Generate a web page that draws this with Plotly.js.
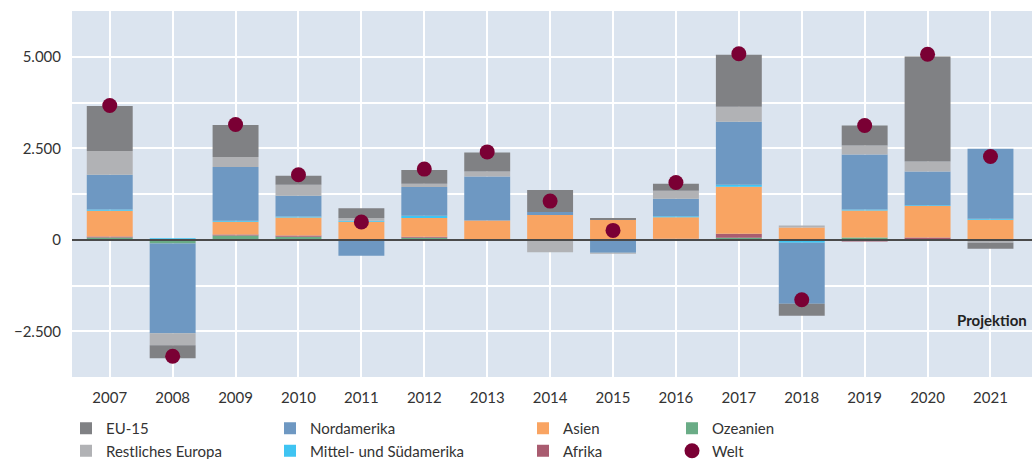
<!DOCTYPE html>
<html>
<head>
<meta charset="utf-8">
<script src="https://cdn.plot.ly/plotly-3.0.1.min.js"></script>
<style>
html,body{margin:0;padding:0;background:#fff;}
#chart{width:1036px;height:459px;}
</style>
</head>
<body>
<div id="chart"></div>
<script>
const years = ['2007','2008','2009','2010','2011','2012','2013','2014','2015','2016','2017','2018','2019','2020','2021'];
const ozeanien    = [64, -100, 118, 82, 0, 55, 0, 0, 0, 20, 55, 0, 64, 0, 0];
const afrika      = [27, 0, 27, 36, 0, 27, 15, 0, 0, 10, 109, 0, -45, 64, 0];
const asien       = [700, 0, 346, 491, 491, 510, 510, 673, 537, 582, 1283, 337, 737, 855, 546];
const mittelSued  = [36, 40, 30, 27, 27, 64, 0, 0, 0, 27, 55, -82, 27, 27, 27];
const nordamerika = [946, -2457, 1465, 565, -437, 783, 1201, 82, -355, 483, 1720, -1665, 1502, 920, 1911];
const restEuropa  = [655, -328, 273, 300, 73, 91, 137, -340, -27, 218, 410, 55, 246, 273, -82];
const eu15        = [1228, -355, 874, 246, 273, 373, 519, 601, 55, 191, 1420, -328, 546, 2867, -164];
const welt        = [3670, -3185, 3148, 1775, 483, 1930, 2400, 1056, 255, 1565, 5080, -1638, 3120, 5070, 2275];
const yTickVals = [-2500, 0, 2500, 5000];
const yTickText = ['\u22122.500', '0', '2.500', '5.000'];

const colors = {
  eu15:'#808184', rest:'#b1b2b5', nord:'#6e98c2', mittel:'#3fc4f2',
  asien:'#f9a462', afrika:'#a95c70', ozean:'#6aac86', welt:'#7a0034'
};

function bar(name, y, color, legend, rank){
  return {type:'bar', name:name, x:years, y:y, marker:{color:color, line:{width:0}},
          legend:legend, legendrank:rank, hoverinfo:'name+y'};
}
const traces = [
  bar('Ozeanien', ozeanien, colors.ozean, 'legend4', 1),
  bar('Afrika', afrika, colors.afrika, 'legend3', 2),
  bar('Asien', asien, colors.asien, 'legend3', 1),
  bar('Mittel- und Südamerika', mittelSued, colors.mittel, 'legend2', 2),
  bar('Nordamerika', nordamerika, colors.nord, 'legend2', 1),
  bar('Restliches Europa', restEuropa, colors.rest, 'legend', 2),
  bar('EU-15', eu15, colors.eu15, 'legend', 1),
  {type:'scatter', mode:'markers', name:'Welt', x:years, y:welt,
   marker:{color:colors.welt, size:15, line:{width:0}}, legend:'legend4', legendrank:2}
];

const legFont = {family:'Lato, "Open Sans", sans-serif', size:15, color:'#333'};
function leg(xpx){
  return {x:xpx/1036, y:1-412/459, xref:'container', yref:'container', xanchor:'left', yanchor:'top',
          orientation:'v', font:legFont, bgcolor:'rgba(0,0,0,0)', borderwidth:0, traceorder:'normal'};
}

const layout = {
  width:1036, height:459,
  margin:{l:72, r:4, t:11, b:82, autoexpand:false},
  paper_bgcolor:'#ffffff',
  plot_bgcolor:'#dbe4ef',
  barmode:'relative',
  bargap:0.27,
  showlegend:true,
  font:{family:'Lato, "Open Sans", sans-serif', size:15, color:'#333'},
  xaxis:{
    type:'category', range:[-0.6, 14.66], showgrid:true, gridcolor:'#ffffff', gridwidth:2,
    ticks:'', showline:false, zeroline:false, ticklabelstandoff:10, tickangle:0, automargin:false,
    tickfont:{family:'Lato, "Open Sans", sans-serif', size:15, color:'#333'}
  },
  yaxis:{
    range:[-3750, 6250], tickvals:yTickVals, ticktext:yTickText, automargin:false,
    showgrid:true, gridcolor:'#ffffff', gridwidth:2,
    minor:{dtick:1250, tick0:0, showgrid:true, gridcolor:'#ffffff', gridwidth:2},
    zeroline:true, zerolinecolor:'#4a4a4a', zerolinewidth:2, zerolinelayer:'above traces',
    ticks:'', showline:false, ticklabelstandoff:10,
    tickfont:{family:'Lato, "Open Sans", sans-serif', size:15, color:'#333'}
  },
  legend: leg(66),
  legend2: leg(270),
  legend3: leg(523),
  legend4: leg(672),
  annotations:[{
    text:'<b>Projektion</b>', xref:'paper', yref:'y', x:0.997, y:-2200,
    xanchor:'right', yanchor:'middle', showarrow:false,
    font:{family:'Lato, "Open Sans", sans-serif', size:15, color:'#222'}
  }]
};

Plotly.newPlot('chart', traces, layout, {displayModeBar:false, staticPlot:true});
</script>
</body>
</html>
